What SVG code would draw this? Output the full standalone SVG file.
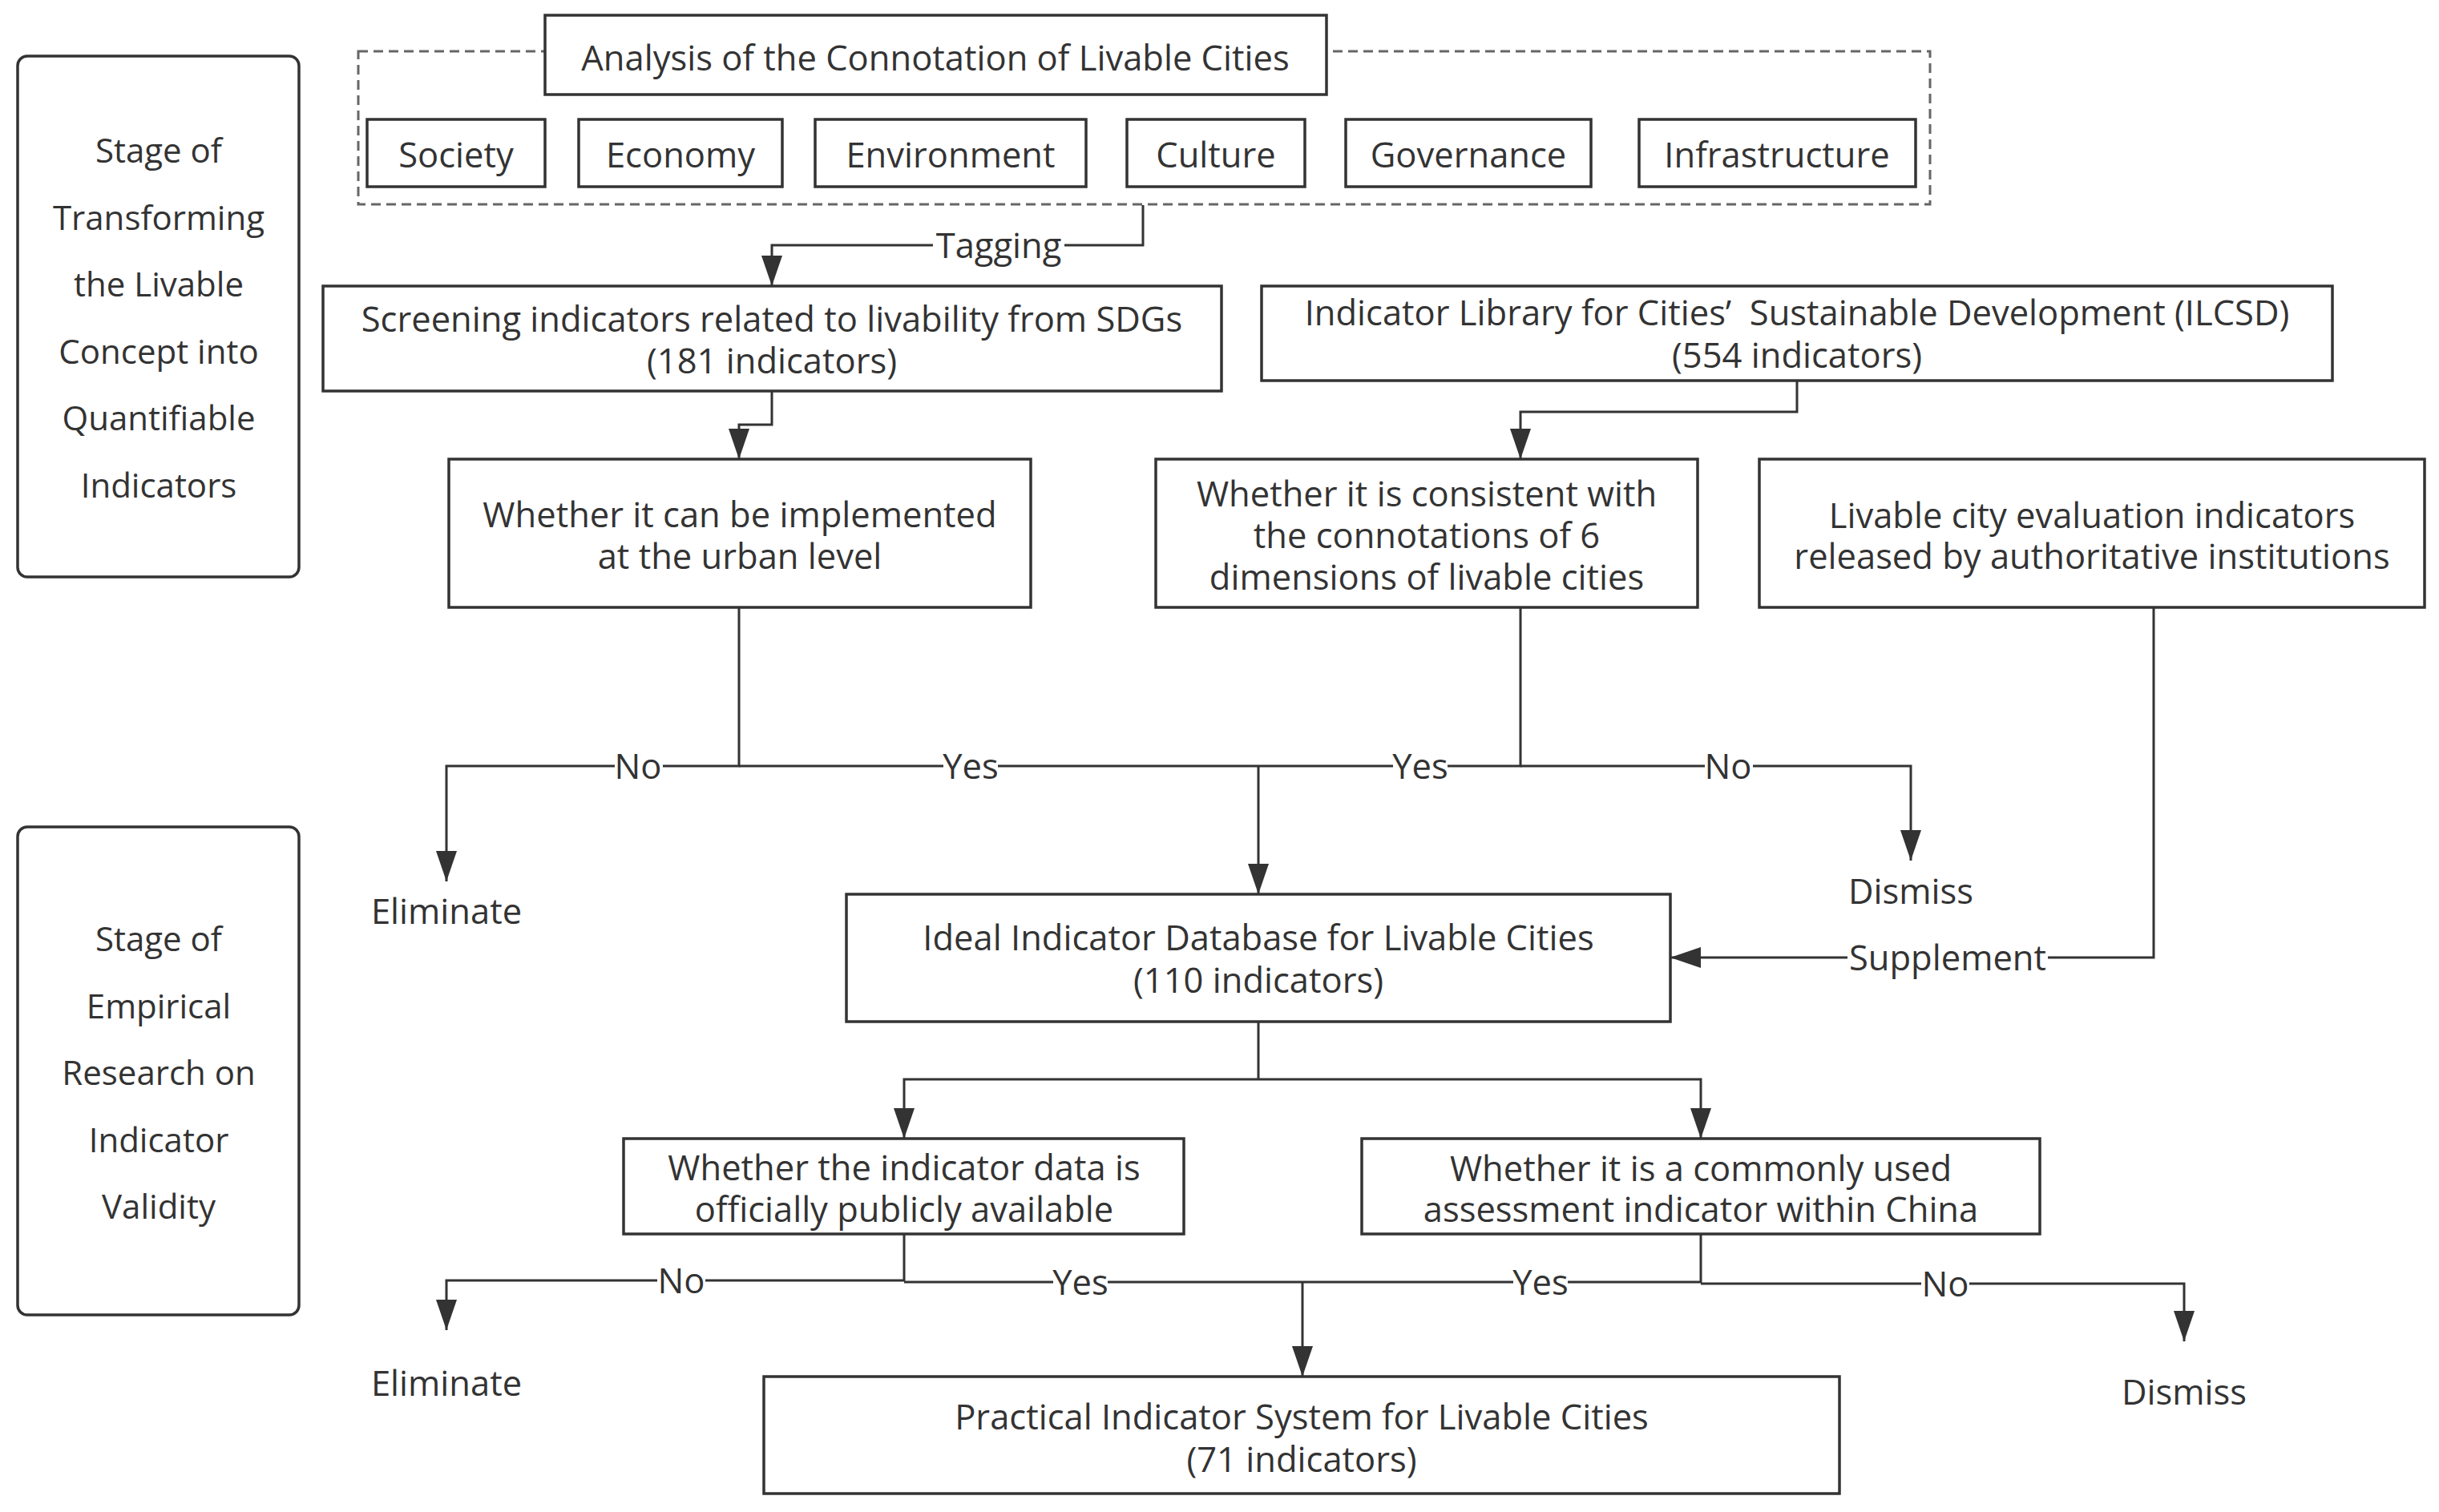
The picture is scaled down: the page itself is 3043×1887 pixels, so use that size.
<svg xmlns="http://www.w3.org/2000/svg" width="3043" height="1887" viewBox="0 0 3043 1887">
<style>
text{font-family:"Open Sans","Noto Sans",sans-serif;font-size:43.5px;fill:#333;text-anchor:middle;dominant-baseline:central}
.st{font-size:42px}
.box{fill:#fff;stroke:#333;stroke-width:3.5}
.stage{fill:#fff;stroke:#333;stroke-width:3.5}
.dash{fill:none;stroke:#666;stroke-width:3;stroke-dasharray:12 7}
.ln{fill:none;stroke:#333;stroke-width:3}
.lbg{fill:#fff}
</style>
<defs>
<marker id="arr" markerWidth="38" markerHeight="26" refX="38" refY="13" orient="auto" markerUnits="userSpaceOnUse"><path d="M0,0 L38,13 L0,26 Z" fill="#333"/></marker>
</defs>
<rect width="3043" height="1887" fill="#fff"/>

<g id="stage1">
<rect class="stage" x="22" y="70" width="351" height="650" rx="12"/>
<text class="st" x="198" y="186">Stage of</text>
<text class="st" x="198" y="270">Transforming</text>
<text class="st" x="198" y="353">the Livable</text>
<text class="st" x="198" y="437">Concept into</text>
<text class="st" x="198" y="520">Quantifiable</text>
<text class="st" x="198" y="604">Indicators</text>
</g>
<g id="stage2">
<rect class="stage" x="22" y="1032" width="351" height="609" rx="12"/>
<text class="st" x="198" y="1170">Stage of</text>
<text class="st" x="198" y="1254">Empirical</text>
<text class="st" x="198" y="1337">Research on</text>
<text class="st" x="198" y="1421">Indicator</text>
<text class="st" x="198" y="1504">Validity</text>
</g>

<g id="dimensions">
<rect class="dash" x="447" y="64" width="1961" height="191"/>
</g>
<g id="analysis">
<rect class="box" x="680" y="19" width="975" height="99"/>
<text x="1167" y="71">Analysis of the Connotation of Livable Cities</text>
</g>
<g id="society"><rect class="box" x="458" y="149" width="222" height="84"/><text x="569" y="192">Society</text></g>
<g id="economy"><rect class="box" x="722" y="149" width="254" height="84"/><text x="849" y="192">Economy</text></g>
<g id="environment"><rect class="box" x="1017" y="149" width="338" height="84"/><text x="1186" y="192">Environment</text></g>
<g id="culture"><rect class="box" x="1406" y="149" width="222" height="84"/><text x="1517" y="192">Culture</text></g>
<g id="governance"><rect class="box" x="1679" y="149" width="306" height="84"/><text x="1832" y="192">Governance</text></g>
<g id="infrastructure"><rect class="box" x="2045" y="149" width="345" height="84"/><text x="2217" y="192">Infrastructure</text></g>

<g id="screening">
<rect class="box" x="403" y="357" width="1121" height="131"/>
<text x="963" y="397">Screening indicators related to livability from SDGs</text>
<text x="963" y="449">(181 indicators)</text>
</g>
<g id="ilcsd">
<rect class="box" x="1574" y="357" width="1336" height="118"/>
<text x="2242" y="389" xml:space="preserve">Indicator Library for Cities’  Sustainable Development (ILCSD)</text>
<text x="2242" y="442">(554 indicators)</text>
</g>
<g id="implemented">
<rect class="box" x="560" y="573" width="726" height="185"/>
<text x="923" y="641">Whether it can be implemented</text>
<text x="923" y="693">at the urban level</text>
</g>
<g id="consistent">
<rect class="box" x="1442" y="573" width="676" height="185"/>
<text x="1780" y="615">Whether it is consistent with</text>
<text x="1780" y="667">the connotations of 6</text>
<text x="1780" y="719">dimensions of livable cities</text>
</g>
<g id="authoritative">
<rect class="box" x="2195" y="573" width="830" height="185"/>
<text x="2610" y="642">Livable city evaluation indicators</text>
<text x="2610" y="693">released by authoritative institutions</text>
</g>
<g id="eliminate1"><text x="557" y="1136">Eliminate</text></g>
<g id="dismiss1"><text x="2384" y="1111">Dismiss</text></g>
<g id="ideal">
<rect class="box" x="1056" y="1116" width="1028" height="159"/>
<text x="1570" y="1169">Ideal Indicator Database for Livable Cities</text>
<text x="1570" y="1222">(110 indicators)</text>
</g>
<g id="available">
<rect class="box" x="778" y="1421" width="699" height="119"/>
<text x="1128" y="1456">Whether the indicator data is</text>
<text x="1128" y="1508">officially publicly available</text>
</g>
<g id="china">
<rect class="box" x="1699" y="1421" width="846" height="119"/>
<text x="2122" y="1457">Whether it is a commonly used</text>
<text x="2122" y="1508">assessment indicator within China</text>
</g>
<g id="eliminate2"><text x="557" y="1725">Eliminate</text></g>
<g id="dismiss2"><text x="2725" y="1736">Dismiss</text></g>
<g id="practical">
<rect class="box" x="953" y="1718" width="1342" height="146"/>
<text x="1624" y="1767">Practical Indicator System for Livable Cities</text>
<text x="1624" y="1820">(71 indicators)</text>
</g>

<g id="connectors">
<path class="ln" d="M1426,256 V306 H963 V357" marker-end="url(#arr)"/>
<path class="ln" d="M963,488 V530 H922 V573" marker-end="url(#arr)"/>
<path class="ln" d="M2242,475 V514 H1897 V573" marker-end="url(#arr)"/>
<path class="ln" d="M922,758 V956 H557 V1100" marker-end="url(#arr)"/>
<path class="ln" d="M922,956 H1570"/>
<path class="ln" d="M1897,758 V956 H1570"/>
<path class="ln" d="M1570,956 V1116" marker-end="url(#arr)"/>
<path class="ln" d="M1897,956 H2384 V1074" marker-end="url(#arr)"/>
<path class="ln" d="M2687,758 V1195 H2084" marker-end="url(#arr)"/>
<path class="ln" d="M1570,1275 V1347"/>
<path class="ln" d="M1570,1347 H1128 V1421" marker-end="url(#arr)"/>
<path class="ln" d="M1570,1347 H2122 V1421" marker-end="url(#arr)"/>
<path class="ln" d="M1128,1540 V1598 H557 V1660" marker-end="url(#arr)"/>
<path class="ln" d="M1128,1600 H1625"/>
<path class="ln" d="M2122,1540 V1600 H1625"/>
<path class="ln" d="M1625,1600 V1718" marker-end="url(#arr)"/>
<path class="ln" d="M2122,1602 H2725 V1674" marker-end="url(#arr)"/>
<g id="labels">
<rect class="lbg" x="1164" y="286" width="164" height="40"/><text x="1246" y="305">Tagging</text>
<rect class="lbg" x="767" y="936" width="60" height="40"/><text x="796" y="955">No</text>
<rect class="lbg" x="1177" y="936" width="68" height="40"/><text x="1211" y="955">Yes</text>
<rect class="lbg" x="1738" y="936" width="68" height="40"/><text x="1772" y="955">Yes</text>
<rect class="lbg" x="2127" y="936" width="60" height="40"/><text x="2156" y="955">No</text>
<rect class="lbg" x="2305" y="1175" width="250" height="40"/><text x="2430" y="1194">Supplement</text>
<rect class="lbg" x="820" y="1578" width="60" height="40"/><text x="850" y="1597">No</text>
<rect class="lbg" x="1314" y="1580" width="68" height="40"/><text x="1348" y="1599">Yes</text>
<rect class="lbg" x="1888" y="1580" width="68" height="40"/><text x="1922" y="1599">Yes</text>
<rect class="lbg" x="2397" y="1582" width="60" height="40"/><text x="2427" y="1601">No</text>
</g>
</g>
</svg>
